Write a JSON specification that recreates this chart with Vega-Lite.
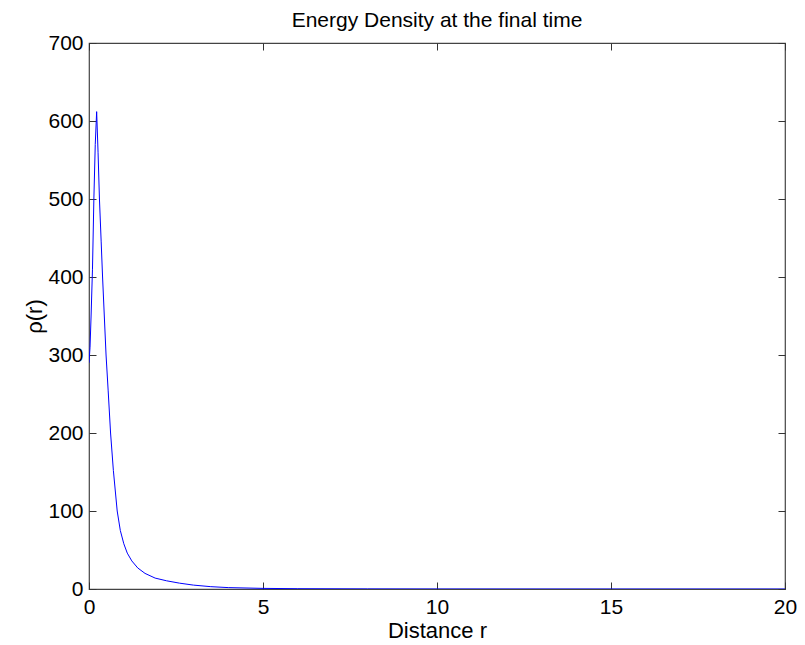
{
  "$schema": "https://vega.github.io/schema/vega-lite/v6.json",
  "autosize": {"type": "none"},
  "width": 696,
  "height": 546,
  "padding": {"left": 89, "top": 43, "right": 20, "bottom": 56},
  "background": "white",
  "title": {"text": "Energy Density at the final time", "font": "Liberation Sans", "fontSize": 21, "fontWeight": "normal", "color": "black", "offset": 1, "anchor": "middle"},
  "config": {"view": {"stroke": "#444444", "strokeWidth": 1.2}},
  "data": {"values": [
    {"r": 0, "rho": 290},
    {"r": 0.03, "rho": 310},
    {"r": 0.06, "rho": 350},
    {"r": 0.1, "rho": 410},
    {"r": 0.14, "rho": 500},
    {"r": 0.18, "rho": 570},
    {"r": 0.22, "rho": 612},
    {"r": 0.26, "rho": 560},
    {"r": 0.3, "rho": 500},
    {"r": 0.35, "rho": 445},
    {"r": 0.39, "rho": 400},
    {"r": 0.44, "rho": 350},
    {"r": 0.49, "rho": 300},
    {"r": 0.55, "rho": 255},
    {"r": 0.62, "rho": 200},
    {"r": 0.7, "rho": 152},
    {"r": 0.81, "rho": 100},
    {"r": 0.9, "rho": 75},
    {"r": 1.0, "rho": 58},
    {"r": 1.1, "rho": 46},
    {"r": 1.23, "rho": 36},
    {"r": 1.4, "rho": 27},
    {"r": 1.61, "rho": 20},
    {"r": 1.9, "rho": 14},
    {"r": 2.23, "rho": 10.5},
    {"r": 2.6, "rho": 7.5},
    {"r": 3.0, "rho": 5},
    {"r": 3.5, "rho": 3},
    {"r": 4.0, "rho": 1.8},
    {"r": 5.0, "rho": 0.8},
    {"r": 6.0, "rho": 0.4},
    {"r": 8.0, "rho": 0.15},
    {"r": 10.0, "rho": 0.05},
    {"r": 15.0, "rho": 0.01},
    {"r": 20.0, "rho": 0}
  ]},
  "layer": [
    {
      "mark": {"type": "line", "color": "#0000ff", "strokeWidth": 1, "clip": true},
      "encoding": {
        "x": {"field": "r", "type": "quantitative", "scale": {"domain": [0, 20], "nice": false, "zero": false},
          "axis": {"orient": "bottom", "title": "Distance r", "values": [0, 5, 10, 15, 20], "grid": false, "domain": false,
            "tickSize": -7, "tickColor": "#333333", "labelPadding": 14, "labelFont": "Liberation Sans", "labelFontSize": 21, "labelColor": "black",
            "titleFont": "Liberation Sans", "titleFontSize": 22, "titleFontWeight": "normal", "titleColor": "black", "titlePadding": 3, "labelFlush": false}},
        "y": {"field": "rho", "type": "quantitative", "scale": {"domain": [0, 700], "nice": false},
          "axis": {"orient": "left", "title": "ρ(r)", "values": [0, 100, 200, 300, 400, 500, 600, 700], "grid": false, "domain": false,
            "tickSize": -7, "tickColor": "#333333", "labelPadding": 13, "labelFont": "Liberation Sans", "labelFontSize": 21, "labelColor": "black",
            "titleFont": "Liberation Sans", "titleFontSize": 22, "titleFontWeight": "normal", "titleColor": "black", "titlePadding": 1, "labelFlush": false}}
      }
    },
    {
      "mark": {"type": "line", "opacity": 0},
      "encoding": {
        "x": {"field": "r", "type": "quantitative",
          "axis": {"orient": "top", "title": null, "labels": false, "values": [0, 5, 10, 15, 20], "grid": false, "domain": false, "tickSize": -7, "tickColor": "#333333"}},
        "y": {"field": "rho", "type": "quantitative",
          "axis": {"orient": "right", "title": null, "labels": false, "values": [0, 100, 200, 300, 400, 500, 600, 700], "grid": false, "domain": false, "tickSize": -7, "tickColor": "#333333"}}
      }
    }
  ],
  "resolve": {"axis": {"x": "independent", "y": "independent"}}
}
